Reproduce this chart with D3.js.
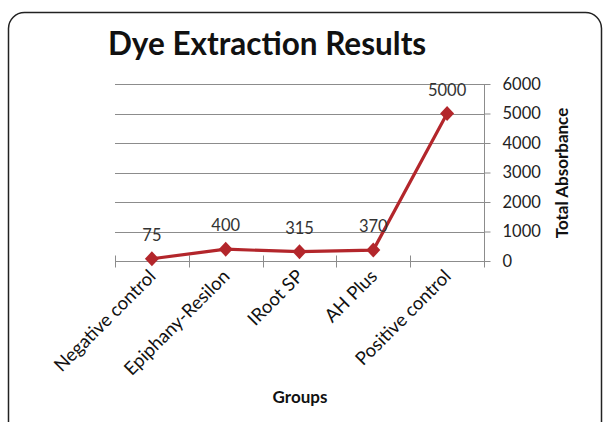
<!DOCTYPE html>
<html><head><meta charset="utf-8">
<script src="https://cdn.jsdelivr.net/npm/d3@7"></script>
<style>body{margin:0;background:#fff;} svg{display:block;font-family:Lato,"Open Sans",sans-serif;}</style>
</head><body>
<script>
const categories = ["Negative control","Epiphany-Resilon","IRoot SP","AH Plus","Positive control"];
const values = [75, 400, 315, 370, 5000];
const yTicks = [0,1000,2000,3000,4000,5000,6000];
const title = "Dye Extraction Results";
const xTitle = "Groups";
const yTitle = "Total Absorbance";

const W=607,H=422;
const svg=d3.select("body").append("svg").attr("width",W).attr("height",H);
svg.append("rect").attr("x",8.5).attr("y",12.5).attr("width",593).attr("height",440)
  .attr("rx",16).attr("fill","#fff").attr("stroke","#222").attr("stroke-width",1.5);

const L=115,R=484,T=84,B=261;
const x=d3.scaleBand().domain(categories).range([L,R]);
const y=d3.scaleLinear().domain([0,6000]).range([B,T]);

svg.append("text").attr("x",108).attr("y",55).attr("font-size",31.5).attr("font-weight","bold")
  .attr("fill","#111").text(title);

// gridlines
svg.append("g").selectAll("line").data(yTicks.filter(d=>d>0)).join("line")
  .attr("x1",L).attr("x2",R).attr("y1",d=>Math.round(y(d))+0.5).attr("y2",d=>Math.round(y(d))+0.5)
  .attr("stroke","#8c8c8c").attr("stroke-width",1);

// right axis
const ya=svg.append("g").attr("transform",`translate(${R+0.5},0)`)
  .call(d3.axisRight(y).tickValues(yTicks).tickSize(6).tickPadding(12).tickFormat(d3.format("d")));
ya.select(".domain").attr("stroke","#8c8c8c").attr("d",`M0,${T}V${B}`);
ya.selectAll(".tick line").attr("stroke","#8c8c8c");
ya.selectAll(".tick text").attr("font-size",16.5).attr("fill","#222").attr("font-family","Lato,sans-serif");

// bottom axis
const xa=svg.append("g").attr("transform",`translate(0,${Math.round(B)+0.5})`);
xa.append("line").attr("x1",L).attr("x2",R+6).attr("stroke","#8c8c8c");
const bounds=categories.map(c=>x(c)).concat([R]);
xa.selectAll("line.tk").data(bounds).join("line").attr("class","tk")
  .attr("x1",d=>Math.round(d)+0.5).attr("x2",d=>Math.round(d)+0.5).attr("y1",-6).attr("y2",6)
  .attr("stroke","#8c8c8c");
xa.selectAll("text").data(categories).join("text")
  .attr("transform",d=>`translate(${x(d)+x.bandwidth()/2+5},16) rotate(-45)`)
  .attr("text-anchor","end").attr("font-size",18.5).attr("fill","#111").text(d=>d);

// line
const cx=i=>x(categories[i])+x.bandwidth()/2;
svg.append("path").datum(values).attr("fill","none").attr("stroke","#B3262B").attr("stroke-width",3.2)
  .attr("d",d3.line().x((d,i)=>cx(i)).y(d=>y(d)));
svg.append("g").selectAll("path").data(values).join("path")
  .attr("d","M0,-7.5L7,0L0,7.5L-7,0Z")
  .attr("transform",(d,i)=>`translate(${cx(i)},${y(d)})`)
  .attr("fill","#B3262B");
svg.append("g").selectAll("text").data(values).join("text")
  .attr("x",(d,i)=>cx(i)).attr("y",d=>y(d)-18).attr("text-anchor","middle")
  .attr("font-size",16.5).attr("fill","#333").text(d=>d);

svg.append("text").attr("x",300).attr("y",403).attr("text-anchor","middle")
  .attr("font-size",17).attr("font-weight","bold").attr("fill","#111").text(xTitle);
svg.append("text").attr("transform","translate(568,173) rotate(-90)").attr("text-anchor","middle")
  .attr("font-size",17).attr("font-weight","bold").attr("fill","#111").text(yTitle);
</script>
</body></html>
